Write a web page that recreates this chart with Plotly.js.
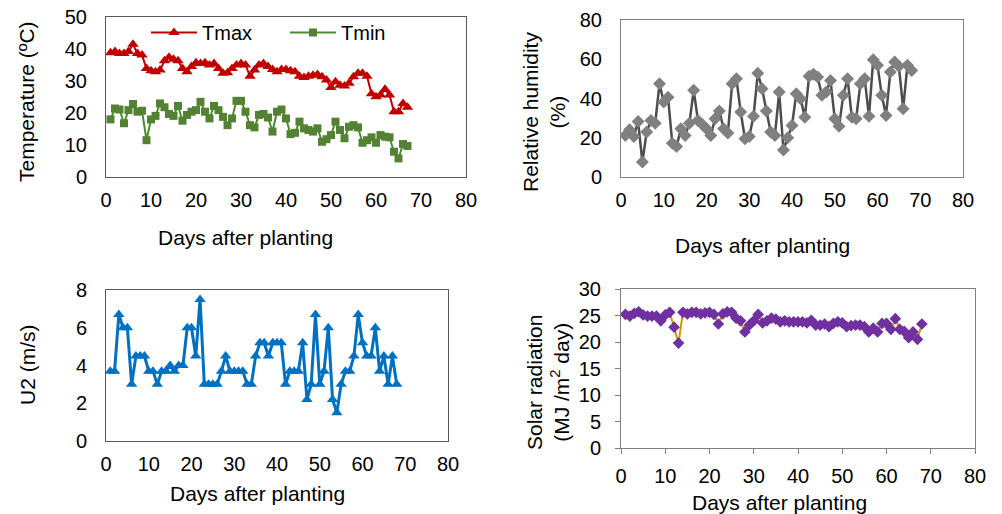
<!DOCTYPE html>
<html>
<head>
<meta charset="utf-8">
<script src="https://cdn.plot.ly/plotly-3.0.1.min.js"></script>
<style>
html,body{margin:0;padding:0;background:#fff;}
#chart{width:1002px;height:514px;}
</style>
</head>
<body>
<div id="chart"></div>
<script>
// ---- Data ----
const tempDays = Array.from({length: 67}, (_, i) => i + 1);
const tmax = [38.8,39.2,38.6,38.6,39.2,41.5,38.6,38.1,33.9,33.2,32.9,33.4,36.3,37.4,36.8,36.3,33.9,32.9,34.5,35.7,
  35.5,35.7,35.0,35.5,33.9,32.4,32.6,33.9,35.0,35.5,35.0,31.5,33.4,35.0,35.5,34.5,33.6,32.9,33.6,33.6,
  33.2,32.9,31.5,31.1,31.5,31.8,32.0,31.3,30.3,28.0,29.8,28.7,28.4,29.3,31.3,32.4,32.4,31.5,26.0,25.1,
  25.6,27.4,25.6,20.4,20.4,23.0,21.8];
const tmin = [18.0,21.4,21.1,16.8,20.9,22.8,20.4,20.7,11.5,18.0,19.1,23.0,21.8,19.7,19.1,22.2,17.6,19.4,20.4,20.9,
  23.5,20.4,18.3,22.2,20.9,18.8,16.2,18.3,23.8,23.8,20.4,16.2,15.5,19.4,19.7,18.6,14.2,20.4,21.1,18.3,
  13.4,13.8,17.3,15.2,14.7,14.2,15.2,11.0,11.8,13.1,17.3,14.7,12.1,15.7,16.2,15.5,10.7,11.5,12.4,10.7,
  13.1,12.6,12.4,7.9,5.8,10.3,9.7];

const days68 = Array.from({length: 68}, (_, i) => i + 1);
const rh = [21.2,24.1,20.7,28.3,7.6,22.9,28.8,27.4,47.5,38.2,40.7,17.2,15.5,24.6,21.2,27.4,44.2,28.8,26.8,24.6,
  21.2,29.7,33.6,24.6,22.4,47.5,50.1,33.1,19.5,20.7,30.9,52.9,45.0,33.6,22.9,21.2,43.3,13.8,20.0,26.3,
  42.4,39.9,30.5,51.3,52.3,50.9,41.6,43.3,49.2,29.7,25.8,41.6,50.1,30.5,29.7,47.5,50.1,30.9,59.8,56.9,
  41.6,31.4,53.5,58.6,56.4,34.8,56.9,54.3];
const u2 = [3.7,3.7,6.7,6.0,6.0,3.0,4.5,4.5,4.5,3.7,3.7,3.0,3.7,3.7,4.0,3.7,4.0,4.0,6.0,6.0,
  4.5,7.5,3.0,3.0,3.0,3.0,3.7,4.5,3.7,3.7,3.7,3.7,3.0,3.0,4.5,5.2,5.2,4.5,5.2,5.2,
  5.2,3.0,3.7,3.7,3.7,5.2,2.2,3.0,6.7,3.0,3.7,6.0,2.2,1.5,3.0,3.7,3.7,4.5,6.7,5.2,
  4.5,4.5,6.0,3.7,4.5,3.0,4.5,3.0];
const solar = [25.2,24.9,25.4,25.7,25.1,24.9,24.9,24.9,24.0,25.1,25.6,22.8,19.8,25.6,25.3,25.6,25.6,25.3,25.5,25.6,
  25.2,23.4,25.3,25.7,25.6,24.5,24.0,21.9,23.2,24.0,25.2,23.6,24.0,24.5,24.3,23.8,24.0,23.8,23.8,23.8,
  23.8,23.6,24.1,23.2,23.2,23.4,22.9,23.5,23.8,23.6,22.9,23.1,23.2,23.2,22.9,21.9,22.6,21.9,23.5,23.5,
  22.4,24.4,22.4,22.0,20.8,21.9,20.5,23.4];

const xTicks = [0,10,20,30,40,50,60,70,80];

// ---- Layout helpers ----
const W = 1002, H = 514;
const px = v => v / W;
const py = v => 1 - v / H;
const FONT = 'Liberation Sans, Arial, sans-serif';

const traces = [
  {x: tempDays, y: tmax, name: 'Tmax', type: 'scatter', mode: 'lines+markers', xaxis: 'x', yaxis: 'y',
   line: {color: '#C00000', width: 2}, marker: {symbol: 'triangle-up', size: 10, color: '#C00000'}},
  {x: tempDays, y: tmin, name: 'Tmin', type: 'scatter', mode: 'lines+markers', xaxis: 'x', yaxis: 'y',
   line: {color: '#4E8A2F', width: 2}, marker: {symbol: 'square', size: 8, color: '#548235'}},
  {x: days68, y: rh, name: 'RH', type: 'scatter', mode: 'lines+markers', xaxis: 'x2', yaxis: 'y2', showlegend: false,
   line: {color: '#4D4D4D', width: 2.5}, marker: {symbol: 'diamond', size: 10, color: '#808080'}},
  {x: days68, y: u2, name: 'U2', type: 'scatter', mode: 'lines+markers', xaxis: 'x3', yaxis: 'y3', showlegend: false,
   line: {color: '#0070C0', width: 3}, marker: {symbol: 'triangle-up', size: 10, color: '#0070C0'}},
  {x: days68, y: solar, name: 'Solar', type: 'scatter', mode: 'lines+markers', xaxis: 'x4', yaxis: 'y4', showlegend: false,
   line: {color: '#C99A00', width: 2}, marker: {symbol: 'diamond', size: 9, color: '#7030A0'}}
];

function xa(d0, d1, anchor, extra) {
  return Object.assign({domain: [px(d0), px(d1)], range: [0, 80], tickvals: xTicks, anchor: anchor,
    showline: true, mirror: true, linecolor: '#7F7F7F', linewidth: 1, showgrid: false, zeroline: false,
    ticks: '', tickfont: {family: FONT, size: 20, color: '#000'}, ticklabelstandoff: 5, fixedrange: true}, extra || {});
}
function ya(top, bottom, range, dtick, anchor, extra) {
  return Object.assign({domain: [py(bottom), py(top)], range: range, dtick: dtick, anchor: anchor,
    showline: true, mirror: true, linecolor: '#7F7F7F', linewidth: 1, showgrid: false, zeroline: false,
    ticks: '', tickfont: {family: FONT, size: 20, color: '#000'}, ticklabelstandoff: 14, fixedrange: true}, extra || {});
}

const ann = (text, x, y, angle) => ({text: text, x: px(x), y: py(y), xref: 'paper', yref: 'paper',
  showarrow: false, textangle: angle || 0, xanchor: 'center', yanchor: 'middle',
  font: {family: FONT, size: 21, color: '#000'}});

const layout = {
  width: W, height: H,
  margin: {l: 0, r: 0, t: 0, b: 0},
  paper_bgcolor: '#fff', plot_bgcolor: '#fff',
  font: {family: FONT, size: 20, color: '#000'},
  showlegend: true,
  legend: {orientation: 'h', x: px(146), y: py(13), xanchor: 'left', yanchor: 'top',
    bgcolor: 'rgba(0,0,0,0)', font: {family: FONT, size: 20, color: '#000'},
    itemwidth: 46, entrywidth: 78, entrywidthmode: 'pixels', itemclick: false},
  xaxis: xa(106, 466, 'y', {linecolor: '#595959'}),
  yaxis: ya(17, 177, [0, 50], 10, 'x', {linecolor: '#595959'}),
  xaxis2: xa(621, 963, 'y2'),
  yaxis2: ya(20, 177, [0, 80], 20, 'x2'),
  xaxis3: xa(106, 448, 'y3', {linecolor: '#595959'}),
  yaxis3: ya(290, 441, [0, 8], 2, 'x3', {linecolor: '#595959'}),
  xaxis4: xa(621, 975, 'y4', {ticks: 'outside', ticklen: 5, tickcolor: '#7F7F7F'}),
  yaxis4: ya(289, 448, [0, 30], 5, 'x4', {ticks: 'outside', ticklen: 5, tickcolor: '#7F7F7F', ticklabelstandoff: 10}),
  annotations: [
    ann('Days after planting', 245, 237),
    ann('Days after planting', 762, 245),
    ann('Days after planting', 257, 493),
    ann('Days after planting', 779, 502),
    ann('Temperature (ºC)', 27, 102, -90),
    ann('Relative humidity<br>(%)', 544, 112, -90),
    ann('U2 (m/s)', 27, 365, -90),
    ann('Solar radiation<br>(MJ /m<sup>2</sup> day)', 548, 383, -90)
  ]
};

Plotly.newPlot('chart', traces, layout, {staticPlot: true, displayModeBar: false});
</script>
</body>
</html>
